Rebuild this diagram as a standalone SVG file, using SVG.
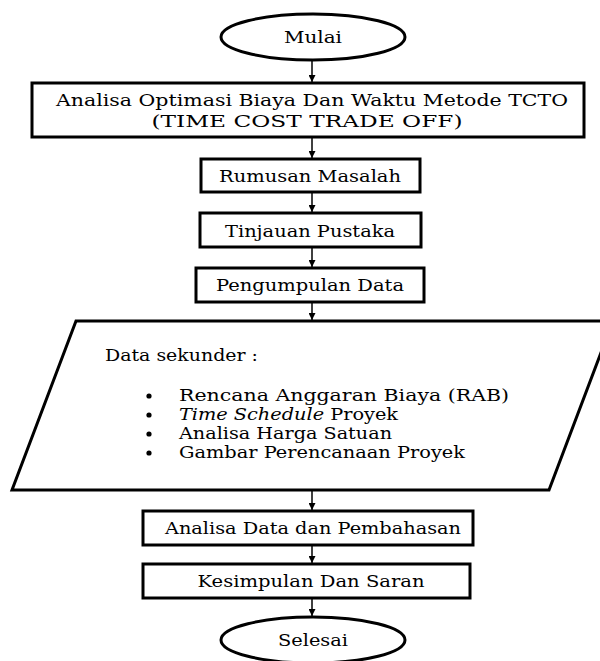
<svg xmlns="http://www.w3.org/2000/svg" width="600" height="661" viewBox="0 0 600 661">
<defs>
<marker id="ah" viewBox="0 0 10 10" refX="10" refY="5" markerWidth="7" markerHeight="7" markerUnits="userSpaceOnUse" orient="auto">
<path d="M0,0 L10,5 L0,10 z" fill="#000"/>
</marker>
<style>
.n{fill:#fff;stroke:#000;stroke-width:3}
.t{font-family:"DejaVu Serif","Liberation Serif",serif;font-size:17px;fill:#000}
.c{text-anchor:middle}
.e{stroke:#000;stroke-width:1.5;fill:none;marker-end:url(#ah)}
</style>
</defs>
<rect width="600" height="661" fill="#fff"/>
<g id="connectors">
<line class="e" x1="312" y1="60" x2="312" y2="82"/>
<line class="e" x1="312" y1="137" x2="312" y2="158"/>
<line class="e" x1="312" y1="193" x2="312" y2="212"/>
<line class="e" x1="312" y1="248" x2="312" y2="267"/>
<line class="e" x1="312" y1="303" x2="312" y2="320"/>
<line class="e" x1="312" y1="491" x2="312" y2="510"/>
<line class="e" x1="312" y1="546" x2="312" y2="563"/>
<line class="e" x1="312" y1="599" x2="312" y2="616"/>
</g>
<g id="mulai">
<ellipse class="n" cx="313" cy="37" rx="92" ry="23"/>
<text class="t c" x="313" y="43" textLength="58" lengthAdjust="spacingAndGlyphs">Mulai</text>
</g>
<g id="analisa-tcto">
<rect class="n" x="32" y="83" width="552" height="54"/>
<text class="t c" x="312" y="106" textLength="512" lengthAdjust="spacingAndGlyphs">Analisa Optimasi Biaya Dan Waktu Metode TCTO</text>
<text class="t c" x="307" y="127" textLength="311" lengthAdjust="spacingAndGlyphs">(TIME COST TRADE OFF)</text>
</g>
<g id="rumusan">
<rect class="n" x="201" y="159" width="219" height="33"/>
<text class="t c" x="310" y="182" textLength="182" lengthAdjust="spacingAndGlyphs">Rumusan Masalah</text>
</g>
<g id="tinjauan">
<rect class="n" x="200" y="213" width="221" height="34"/>
<text class="t c" x="310" y="237" textLength="170" lengthAdjust="spacingAndGlyphs">Tinjauan Pustaka</text>
</g>
<g id="pengumpulan">
<rect class="n" x="196" y="268" width="228" height="34"/>
<text class="t c" x="310" y="291" textLength="188" lengthAdjust="spacingAndGlyphs">Pengumpulan Data</text>
</g>
<g id="data-sekunder">
<polygon class="n" points="76,321 613,321 549,490 12,490"/>
<text class="t" x="105" y="361" textLength="153" lengthAdjust="spacingAndGlyphs">Data sekunder :</text>
<g fill="#000">
<circle cx="149" cy="396" r="2.6"/>
<circle cx="149" cy="415" r="2.6"/>
<circle cx="149" cy="434" r="2.6"/>
<circle cx="149" cy="453" r="2.6"/>
</g>
<text class="t" x="179" y="401" textLength="330" lengthAdjust="spacingAndGlyphs">Rencana  Anggaran Biaya (RAB)</text>
<text class="t" x="179" y="420" textLength="219" lengthAdjust="spacingAndGlyphs"><tspan font-style="italic">Time Schedule</tspan> Proyek</text>
<text class="t" x="179" y="439" textLength="213" lengthAdjust="spacingAndGlyphs">Analisa Harga Satuan</text>
<text class="t" x="179" y="458" textLength="286" lengthAdjust="spacingAndGlyphs">Gambar Perencanaan Proyek</text>
</g>
<g id="analisa-data">
<rect class="n" x="143" y="511" width="330" height="34"/>
<text class="t c" x="313" y="534" textLength="296" lengthAdjust="spacingAndGlyphs">Analisa Data dan Pembahasan</text>
</g>
<g id="kesimpulan">
<rect class="n" x="143" y="564" width="327" height="34"/>
<text class="t c" x="311" y="587" textLength="227" lengthAdjust="spacingAndGlyphs">Kesimpulan Dan Saran</text>
</g>
<g id="selesai">
<ellipse class="n" cx="313" cy="640" rx="92" ry="23"/>
<text class="t c" x="313" y="646" textLength="70" lengthAdjust="spacingAndGlyphs">Selesai</text>
</g>
</svg>
